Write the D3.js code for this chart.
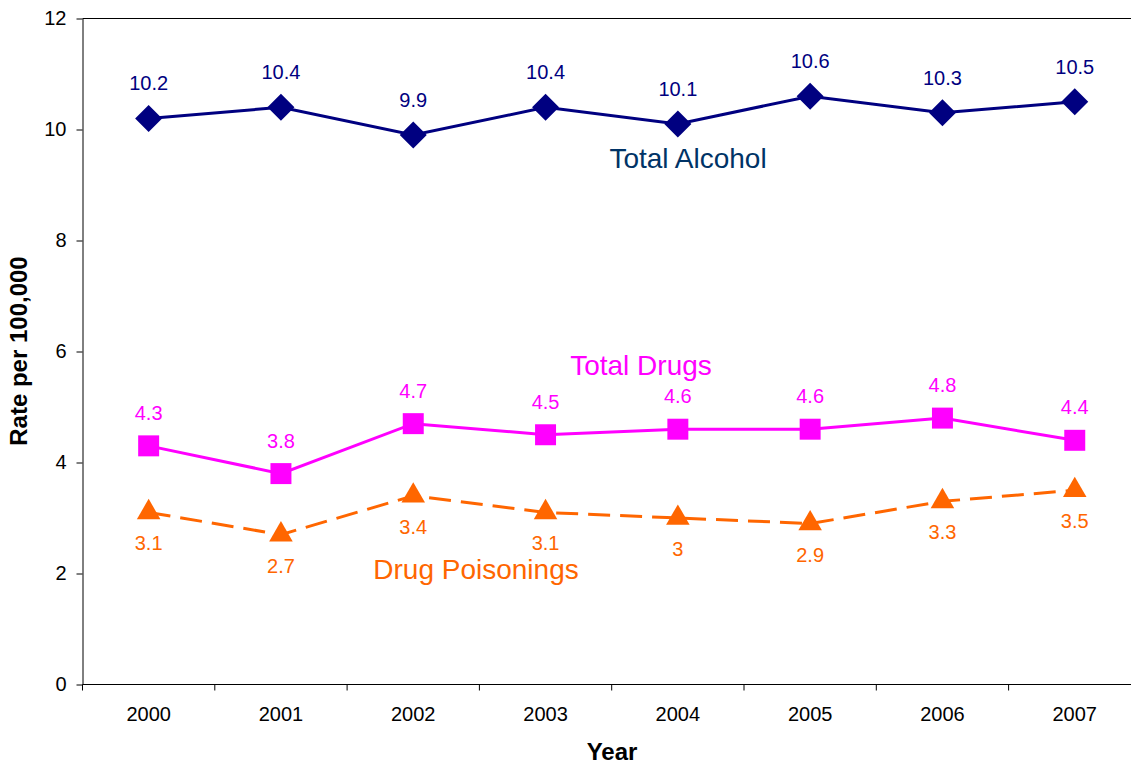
<!DOCTYPE html>
<html>
<head>
<meta charset="utf-8">
<script src="https://cdn.jsdelivr.net/npm/d3@7"></script>
<style>
  html, body { margin: 0; padding: 0; background: #fff; }
  svg { display: block; font-family: "Liberation Sans", Arial, sans-serif; }
</style>
</head>
<body>
<svg id="chart" width="1131" height="764"></svg>
<script>
const years = ["2000", "2001", "2002", "2003", "2004", "2005", "2006", "2007"];
const totalAlcohol = [10.2, 10.4, 9.9, 10.4, 10.1, 10.6, 10.3, 10.5];
const totalDrugs = [4.3, 3.8, 4.7, 4.5, 4.6, 4.6, 4.8, 4.4];
const drugPoisonings = [3.1, 2.7, 3.4, 3.1, 3.0, 2.9, 3.3, 3.5];
const yTicks = [0, 2, 4, 6, 8, 10, 12];

(function () {
const svg = d3.select("#chart");
const FONT = "'Liberation Sans', Arial, sans-serif";
const mLeft = 82.5, mTop = 18.5, mBottom = 684.5;
const step = 132.3;
const mRight = mLeft + step * years.length;

const x = d3.scaleBand().domain(years).range([mLeft, mRight]).padding(0);
const y = d3.scaleLinear().domain([0, 12]).range([mBottom, mTop]);
const cx = d => x(d) + x.bandwidth() / 2;

// plot border top
svg.append("line").attr("x1", mLeft).attr("x2", mRight).attr("y1", mTop).attr("y2", mTop)
  .attr("stroke", "#000").attr("stroke-width", 1);

// Y axis
const yAxis = svg.append("g").attr("transform", `translate(${mLeft},0)`)
  .call(d3.axisLeft(y).tickValues(yTicks).tickSize(6).tickSizeOuter(0).tickPadding(10).tickFormat(d3.format("d")));
yAxis.select(".domain").attr("stroke", "#000");
yAxis.selectAll(".tick line").attr("stroke", "#000");
yAxis.selectAll("text").attr("font-size", 20).attr("fill", "#000").attr("font-family", FONT);

// X axis
const xAxis = svg.append("g").attr("transform", `translate(0,${mBottom})`)
  .call(d3.axisBottom(x).tickSize(0).tickSizeOuter(0));
xAxis.select(".domain").remove();
xAxis.selectAll("text").attr("font-size", 20).attr("fill", "#000").attr("font-family", FONT)
  .attr("y", 36.5).attr("dy", 0);
svg.append("line").attr("x1", mLeft).attr("x2", mRight).attr("y1", mBottom).attr("y2", mBottom)
  .attr("stroke", "#000").attr("stroke-width", 1);
svg.append("g").selectAll("line").data(years).join("line")
  .attr("x1", d => x(d)).attr("x2", d => x(d))
  .attr("y1", mBottom).attr("y2", mBottom + 6)
  .attr("stroke", "#000");

// Axis titles
svg.append("text").attr("x", 612).attr("y", 760).attr("text-anchor", "middle")
  .attr("font-size", 24).attr("font-weight", "bold").text("Year");
svg.append("text").attr("transform", "translate(27,351) rotate(-90)").attr("text-anchor", "middle")
  .attr("font-size", 24).attr("font-weight", "bold").text("Rate per 100,000");

const line = d3.line().x((d, i) => cx(years[i])).y(d => y(d));

const series = [
  { values: totalAlcohol, color: "#000080", dash: null, sym: d3.symbolSquare, size: 365, rot: 45, labelOff: -28 },
  { values: totalDrugs, color: "#FF00FF", dash: null, sym: d3.symbolSquare, size: 440, rot: 0, labelOff: -26 },
  { values: drugPoisonings, color: "#FF6600", dash: "22,10", sym: d3.symbolTriangle, size: 240, rot: 0, labelOff: 38 }
];

series.forEach(s => {
  svg.append("path").datum(s.values).attr("d", line)
    .attr("fill", "none").attr("stroke", s.color).attr("stroke-width", 3)
    .attr("stroke-dasharray", s.dash);
  svg.append("g").selectAll("path").data(s.values).join("path")
    .attr("transform", (d, i) => `translate(${cx(years[i])},${y(d)}) rotate(${s.rot})`)
    .attr("d", d3.symbol().type(s.sym).size(s.size))
    .attr("fill", s.color);
  svg.append("g").selectAll("text").data(s.values).join("text")
    .attr("x", (d, i) => cx(years[i]))
    .attr("y", d => y(d) + s.labelOff)
    .attr("text-anchor", "middle").attr("font-size", 20).attr("fill", s.color)
    .attr("font-family", FONT)
    .text(d => d3.format("~g")(d));
});

// series labels
svg.append("text").attr("x", 688).attr("y", 168).attr("text-anchor", "middle")
  .attr("font-size", 28).attr("fill", "#003366").text("Total Alcohol");
svg.append("text").attr("x", 641).attr("y", 375).attr("text-anchor", "middle")
  .attr("font-size", 28).attr("fill", "#FF00FF").text("Total Drugs");
svg.append("text").attr("x", 476).attr("y", 579).attr("text-anchor", "middle")
  .attr("font-size", 28).attr("fill", "#FF6600").text("Drug Poisonings");
})();
</script>
</body>
</html>
